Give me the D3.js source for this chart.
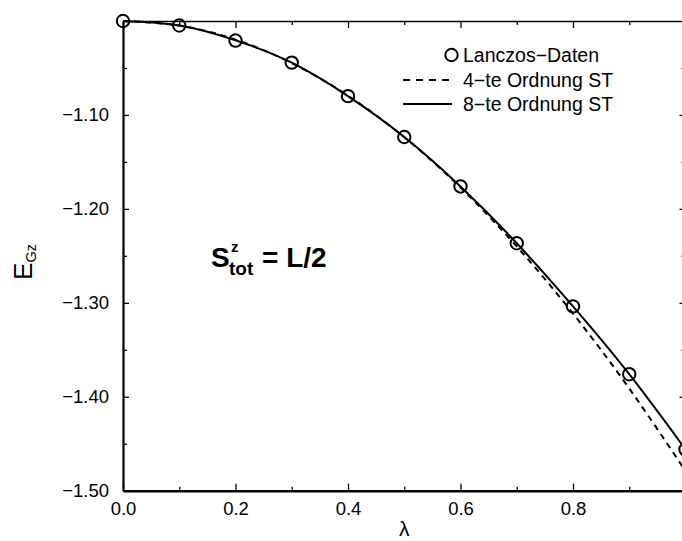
<!DOCTYPE html>
<html>
<head>
<meta charset="utf-8">
<script src="https://cdn.jsdelivr.net/npm/d3@7"></script>
<style>
  html, body { margin: 0; padding: 0; background: #fff; }
  svg { display: block; font-family: "Liberation Sans", Arial, Helvetica, sans-serif; }
</style>
</head>
<body>
<svg id="chart" width="682" height="541"></svg>
<script>
// Ground-state energy vs. coupling λ
const lambdas      = [0.0, 0.1, 0.2, 0.3, 0.4, 0.5, 0.6, 0.7, 0.8, 0.9, 1.0];
const lanczos      = [-1.000, -1.0048, -1.0208, -1.0443, -1.0800, -1.1235, -1.1761, -1.2366, -1.3038, -1.3760, -1.4560];
const order4       = [-1.000, -1.0049, -1.0198, -1.0448, -1.0795, -1.1237, -1.1773, -1.2400, -1.3114, -1.3912, -1.4790];
const order8       = [-1.000, -1.0048, -1.0205, -1.0444, -1.0800, -1.1235, -1.1761, -1.2366, -1.3038, -1.3760, -1.4560];
const xMajorTicks  = [0.0, 0.2, 0.4, 0.6, 0.8];
const xMinorTicks  = [0.1, 0.3, 0.5, 0.7, 0.9];
const yMajorTicks  = [-1.5, -1.4, -1.3, -1.2, -1.1];
const yMinorTicks  = [-1.45, -1.35, -1.25, -1.15, -1.05];
const legendLabels = ["Lanczos\u2212Daten", "4\u2212te Ordnung ST", "8\u2212te Ordnung ST"];

const svg = d3.select("#chart");
const plotLeft = 123, plotRight = 685.5, plotTop = 21, plotBottom = 490.7;

const x = d3.scaleLinear().domain([0, 1]).range([plotLeft, plotRight]);
const y = d3.scaleLinear().domain([-1.5, -1.0]).range([plotBottom, plotTop]);

const fmt = d3.format(".1f");
const fmtY = d3.format(".2f");

function styleAxis(g, width) {
  g.select(".domain").attr("stroke", "#000").attr("stroke-width", width);
  g.selectAll(".tick line").attr("stroke", "#000").attr("stroke-width", 1.3);
  g.selectAll(".tick text").attr("fill", "#000");
}

// bottom axis
const gb = svg.append("g").attr("transform", `translate(0,${plotBottom})`)
  .call(d3.axisBottom(x).tickValues(xMajorTicks).tickSize(-7).tickSizeOuter(0)
    .tickPadding(11).tickFormat(fmt));
gb.selectAll(".tick text").attr("font-size", 18.5).attr("font-family", "Liberation Sans, Arial, sans-serif");
styleAxis(gb, 2.6);
const gbm = svg.append("g").attr("transform", `translate(0,${plotBottom})`)
  .call(d3.axisBottom(x).tickValues(xMinorTicks).tickSize(-4).tickSizeOuter(0).tickFormat(""));
styleAxis(gbm, 0);

// top axis
const gt = svg.append("g").attr("transform", `translate(0,${plotTop})`)
  .call(d3.axisTop(x).tickValues(xMajorTicks).tickSize(-7).tickSizeOuter(0).tickFormat(""));
styleAxis(gt, 1.6);
const gtm = svg.append("g").attr("transform", `translate(0,${plotTop})`)
  .call(d3.axisTop(x).tickValues(xMinorTicks).tickSize(-4).tickSizeOuter(0).tickFormat(""));
styleAxis(gtm, 0);

// left axis
const gl = svg.append("g").attr("transform", `translate(${plotLeft},0)`)
  .call(d3.axisLeft(y).tickValues(yMajorTicks).tickSize(-6).tickSizeOuter(0)
    .tickPadding(14).tickFormat(fmtY));
gl.selectAll(".tick text").attr("font-size", 18.5).attr("font-family", "Liberation Sans, Arial, sans-serif");
styleAxis(gl, 2.2);
const glm = svg.append("g").attr("transform", `translate(${plotLeft},0)`)
  .call(d3.axisLeft(y).tickValues(yMinorTicks).tickSize(-4).tickSizeOuter(0).tickFormat(""));
styleAxis(glm, 0);

// right axis
const gr = svg.append("g").attr("transform", `translate(${plotRight},0)`)
  .call(d3.axisRight(y).tickValues(yMajorTicks).tickSize(-6).tickSizeOuter(0).tickFormat(""));
styleAxis(gr, 1.6);
const grm = svg.append("g").attr("transform", `translate(${plotRight},0)`)
  .call(d3.axisRight(y).tickValues(yMinorTicks).tickSize(-4).tickSizeOuter(0).tickFormat(""));
styleAxis(grm, 0);

// curves
const line = d3.line().x((d, i) => x(lambdas[i])).y(d => y(d)).curve(d3.curveNatural);

svg.append("path").datum(order4)
  .attr("d", line).attr("fill", "none").attr("stroke", "#000")
  .attr("stroke-width", 2).attr("stroke-dasharray", "6,5");

svg.append("path").datum(order8)
  .attr("d", line).attr("fill", "none").attr("stroke", "#000")
  .attr("stroke-width", 2);

// Lanczos points
svg.append("g").selectAll("circle").data(lanczos).join("circle")
  .attr("cx", (d, i) => x(lambdas[i])).attr("cy", d => y(d)).attr("r", 6.2)
  .attr("fill", "none").attr("stroke", "#000").attr("stroke-width", 2);

// axis titles
svg.append("text").attr("x", (plotLeft + plotRight) / 2).attr("y", 536)
  .attr("text-anchor", "middle").attr("font-size", 21).text("\u03BB");

const yt = svg.append("text").attr("transform", "translate(32,262) rotate(-90)")
  .attr("text-anchor", "middle");
yt.append("tspan").attr("font-size", 26).text("E");
yt.append("tspan").attr("font-size", 14.5).attr("dy", 4).text("Gz");

// annotation
const ann = svg.append("g").attr("font-weight", "bold").attr("fill", "#000");
ann.append("text").attr("x", 211).attr("y", 267).attr("font-size", 28).text("S");
ann.append("text").attr("x", 231).attr("y", 252).attr("font-size", 15).text("z");
ann.append("text").attr("x", 229).attr("y", 275).attr("font-size", 19).text("tot");
ann.append("text").attr("x", 262).attr("y", 267).attr("font-size", 28).text("= L/2");

// legend
const lg = svg.append("g").attr("font-size", 19.5);
const rows = [55, 80, 104];
lg.append("circle").attr("cx", 451.5).attr("cy", rows[0]).attr("r", 6.2)
  .attr("fill", "none").attr("stroke", "#000").attr("stroke-width", 2);
lg.append("line").attr("x1", 403).attr("x2", 452).attr("y1", rows[1]).attr("y2", rows[1])
  .attr("stroke", "#000").attr("stroke-width", 2).attr("stroke-dasharray", "7,6");
lg.append("line").attr("x1", 403).attr("x2", 452).attr("y1", rows[2]).attr("y2", rows[2])
  .attr("stroke", "#000").attr("stroke-width", 2);
lg.selectAll("text.lab").data(legendLabels).join("text").attr("class", "lab")
  .attr("x", 463).attr("y", (d, i) => rows[i]).attr("dy", "0.36em").text(d => d);
</script>
</body>
</html>
